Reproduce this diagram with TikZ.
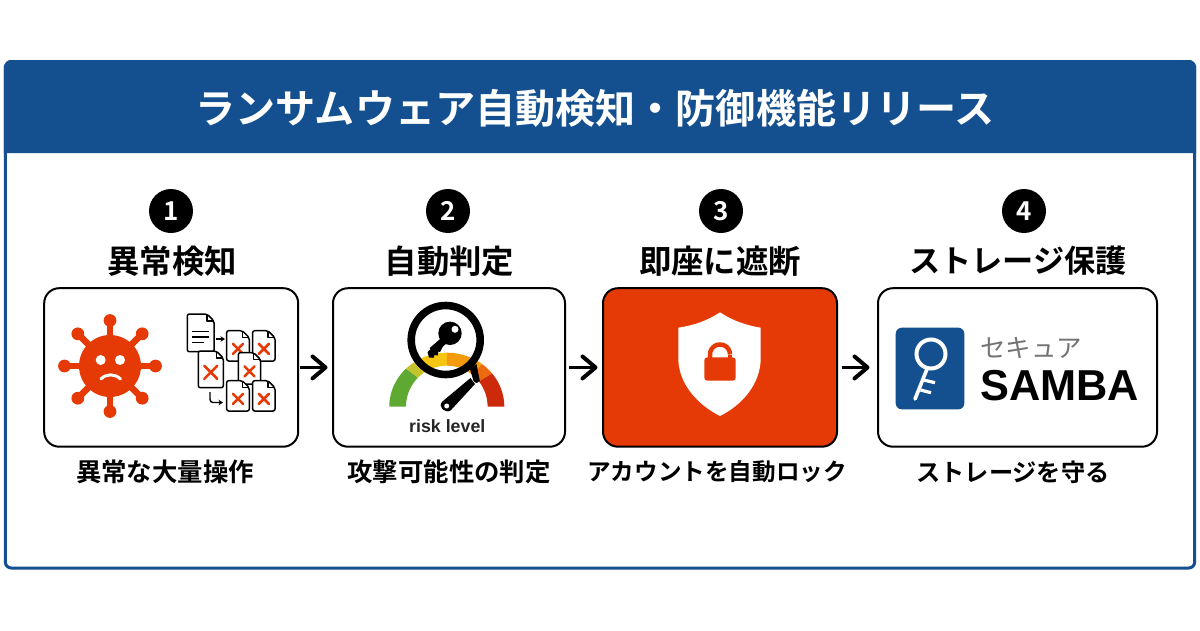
\documentclass[tikz,border=0pt]{standalone}
\usepackage{fontspec}
\setmainfont{Noto Sans CJK JP}[BoldFont={Noto Sans CJK JP Bold}]
\newfontfamily\lat{Liberation Sans}[BoldFont={Liberation Sans Bold}]
\usetikzlibrary{arrows.meta}
\definecolor{hdr}{HTML}{14508F}
\definecolor{alert}{HTML}{E63A06}
\definecolor{gGreen}{HTML}{5FA832}
\definecolor{gYelGr}{HTML}{C4C52C}
\definecolor{gYellow}{HTML}{F6C512}
\definecolor{gOrange}{HTML}{F59A0A}
\definecolor{gDark}{HTML}{EC6A10}
\definecolor{gRed}{HTML}{CC2A0A}
\newcommand\fs[1]{\fontsize{#1}{#1}\selectfont}
\tikzset{
  x=1pt,y=-1pt,
  frame/.style={draw=hdr,line width=3,rounded corners=6,fill=white},
  numdot/.style={circle,fill=black,text=white,minimum size=44,inner sep=0,font=\fs{26}\bfseries},
  heading/.style={inner sep=0,font=\fs{32.4}\bfseries},
  caption/.style={inner sep=0,font=\fs{25.4}\bfseries},
  card/.style={draw=black,line width=2,rounded corners=15,fill=white,inner sep=0,anchor=north west},
  flow/.style={line width=3.4,-{Straight Barb[length=13,width=22,line width=4,round]}},
  doc/.style={draw=black,line width=1.5,fill=white,rounded corners=2,line join=round},
  cross/.style={draw=alert,line width=2.6,line cap=round},
}
% a document outline: x1,y1,x2,y2
\newcommand\docshape[4]{%
  \draw[doc] (#1,#2) -- ({#3-7},#2) -- (#3,{#2+7}) -- (#3,#4) -- (#1,#4) -- cycle;
  \draw[line width=1.2,line join=round] ({#3-7},#2) -- ({#3-7},{#2+7}) -- (#3,{#2+7});
}
% document with a red cross: x1,y1,x2,y2,half size
\newcommand\docx[5]{%
  \docshape{#1}{#2}{#3}{#4}
  \draw[cross] ({(#1+#3)/2-#5},{(#2+#4)/2-#5+3}) -- ({(#1+#3)/2+#5},{(#2+#4)/2+#5+3})
               ({(#1+#3)/2+#5},{(#2+#4)/2-#5+3}) -- ({(#1+#3)/2-#5},{(#2+#4)/2+#5+3});
}
\newcommand\gseg[3]{%
  \fill[#3] plot[domain=#1:#2,samples=24] ({446.8+57.5*cos(\x)},{406.7-54*sin(\x)})
    -- plot[domain=#2:#1,samples=24] ({446.8+40.8*cos(\x)},{406.7-41*sin(\x)}) -- cycle;
}
\begin{document}
\begin{tikzpicture}
\useasboundingbox (0,0) rectangle (1200,630);
\fill[white] (0,0) rectangle (1200,630);
% frame and header
\draw[frame] (5.3,61.5) rectangle (1194.7,568);
\fill[hdr] (3.8,153) -- (3.8,66) to[out=-90,in=180] (9.8,60) -- (1190.2,60) to[out=0,in=-90] (1196.2,66) -- (1196.2,153) -- cycle;
\node[inner sep=0,text=white,font=\fs{40.1}\bfseries] (title) at (595,108.5) {ランサムウェア自動検知・防御機能リリース};
% numbers
\node[numdot] (n1) at (171,211) {1};
\node[numdot] (n2) at (448,211) {2};
\node[numdot] (n3) at (721,211) {3};
\node[numdot] (n4) at (1024,211) {4};
% headings
\node[heading] (h1) at (172,261) {異常検知};
\node[heading] (h2) at (449.5,261) {自動判定};
\node[heading] (h3) at (720,261) {即座に遮断};
\node[heading,font=\fs{31.2}\bfseries] (h4) at (1018,261) {ストレージ保護};
% cards
\node[card,minimum width=254,minimum height=158.5] (box1) at (43.2,287.2) {};
\node[card,minimum width=232,minimum height=158.5] (box2) at (332,287.2) {};
\node[card,minimum width=234,minimum height=158.5,fill=alert] (box3) at (602,287.2) {};
\node[card,minimum width=279,minimum height=158.5] (box4) at (877,287.2) {};
% captions
\node[caption] (c1) at (165,472) {異常な大量操作};
\node[caption] (c2) at (449,472) {攻撃可能性の判定};
\node[caption,font=\fs{23.6}\bfseries] (c3) at (717,472) {アカウントを自動ロック};
\node[caption,font=\fs{24.2}\bfseries] (c4) at (1013,472) {ストレージを守る};
% connectors
\draw[flow] ([xshift=1]box1.east) -- ([xshift=-4.5]box2.west);
\draw[flow] ([xshift=3]box2.east) -- ([xshift=-4.5]box3.west);
\draw[flow] ([xshift=4]box3.east) -- ([xshift=-7.5]box4.west);
% virus
\foreach \a in {0,45,...,315}{
  \draw[alert,line width=6.5] (110,366) -- ({110+45*cos(\a)},{366+45*sin(\a)});
  \fill[alert] ({110+45.5*cos(\a)},{366+45.5*sin(\a)}) circle[radius=6.4];
}
\fill[alert] (110,366) circle[radius=31];
\fill[white] (100.7,360) circle[radius=5] (120,360) circle[radius=5];
\draw[white,line width=3,line cap=round] (101,379) .. controls (106,373.5) and (115,373.5) .. (120.5,379);
% documents
\docshape{187.3}{314}{214}{351.7}
\draw[line width=1.5] (192,331.5) -- (209,331.5) (192,337) -- (209,337) (192,342.5) -- (204,342.5);
\docx{226.7}{330.7}{249.3}{361}{5}
\docx{252.7}{330.7}{275}{361}{5}
\docx{238.3}{352.7}{260.7}{384}{5}
\docx{198.3}{351}{223.3}{387.7}{6.5}
\docx{226.7}{380.7}{249.3}{411}{5}
\docx{252.7}{380.7}{275}{411}{5}
\coordinate (fa) at (216,339);
\coordinate (fb) at (225,339);
\draw[line width=1.4,-{Stealth[length=4.5,width=5.5]}] (fa) -- (fb);
\coordinate (ga) at (210,392);
\coordinate (gb) at (223,402.5);
\draw[line width=1.4,rounded corners=3,-{Stealth[length=4.5,width=5.5]}] (ga) |- (gb);
% gauge
\gseg{180}{135}{gGreen}
\gseg{135}{125}{gYelGr}
\gseg{125}{90}{gYellow}
\gseg{90}{52}{gOrange}
\gseg{52}{38}{gDark}
\gseg{38}{0}{gRed}
% needle
\fill[black] (475,384) -- (450.7,410.4) .. controls (445,414) and (437,406.5) .. (442.5,401.4) -- (470.5,378) -- cycle;
\fill[white] (446.7,406) circle[radius=2.5];
% magnifier
\draw[black,line width=7.6] (445.7,340) circle[radius=34.5];
\fill[black] (470,369) -- (476.5,364) -- (479.8,381) .. controls (478.5,383.5) and (475.5,383.5) .. (473.5,381) -- cycle;
% lens key
\fill[black] (450,333.3) circle[radius=11.7];
\draw[black,line width=7.5] (447,338) -- (432,351);
\fill[black] (427.5,352) -- (433,347) -- (443,346) -- (440,352) -- (438.5,351.5) -- (437.5,355.5) -- (434.5,355) -- (433.5,357.8) -- (429,357.5) -- cycle;
\fill[white] (455,329.3) circle[radius=3.5];
\node[inner sep=0,font=\lat\fs{17.8}\bfseries,text=black!85] (risk) at (447.3,426) {risk level};
% shield
\fill[white] (720,312.3) .. controls (707,321) and (693,325.5) .. (678.3,327.7)
  -- (678.3,358) .. controls (678.3,384) and (698,405) .. (720,416)
  .. controls (742,405) and (760.7,384) .. (760.7,358) -- (760.7,327.7)
  .. controls (747,325.5) and (733,321) .. (720,312.3) -- cycle;
\fill[alert,rounded corners=3] (704.3,357.3) rectangle (735.7,380.7);
\draw[alert,line width=4.5] plot[domain=0:180,samples=24] ({720+10*cos(\x)},{354.5-10*sin(\x)}) -- (710,359);
\draw[alert,line width=4.5] (730,354.5) -- (730,359);
% samba logo
\fill[hdr,rounded corners=6] (895.7,327.7) rectangle (964.3,409.3);
\draw[white,line width=4] (931,354) circle[radius=14.5];
\draw[white,line width=3.6,line cap=round] (927,369) -- (915,399);
\draw[white,line width=3.2] (923.5,380) -- (935,382.7) (920.5,390) -- (931,392.7);
\node[inner sep=0,text=black!55,font=\fs{25.5}] (sec) at (1031,347.5) {セキュア};
\node[inner sep=0,font=\lat\fs{43.3}\bfseries] (samba) at (1059.5,386) {SAMBA};
\end{tikzpicture}
\end{document}
